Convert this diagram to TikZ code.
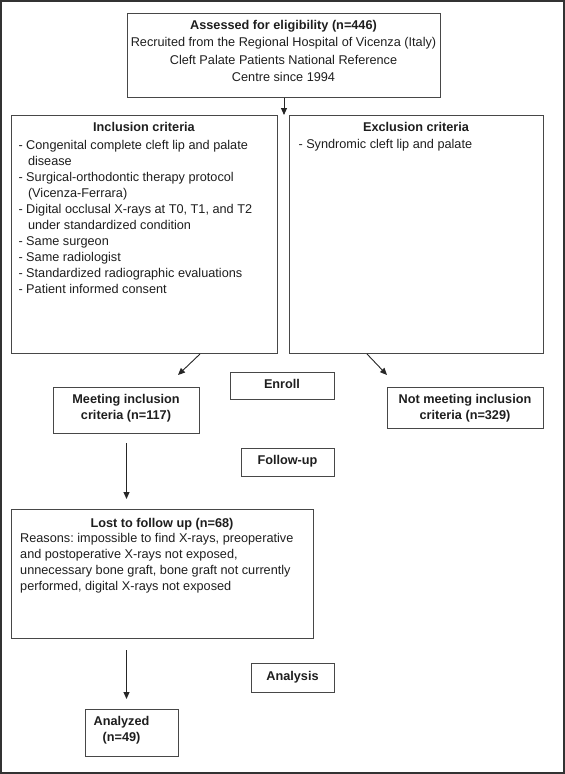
\documentclass[tikz,border=0pt]{standalone}
\usepackage{fontspec}
\setmainfont{Liberation Sans}
\usetikzlibrary{arrows.meta,calc}
\frenchspacing
\newcommand\tstrut{\rule{0pt}{10pt}}
\definecolor{boxcol}{HTML}{474747}
\definecolor{txtcol}{HTML}{1E1E1E}
\begin{document}
\begin{tikzpicture}[x=1pt,y=-1pt,
  box/.style={draw=boxcol, line width=1pt, inner sep=0pt, anchor=north west},
  txt/.style={inner sep=0pt, text=txtcol, font={\fontsize{12.7}{16}\selectfont}},
  ttl/.style={txt, font={\fontsize{12.7}{16}\selectfont\bfseries}, align=center, anchor=north},
  lst/.style={txt, align=left, anchor=north west},
  arr/.style={draw=black!85, line width=0.9pt, -{Triangle[length=7pt,width=6pt]}}]
\useasboundingbox (0,0) rectangle (565,774);
\draw[line width=2pt, draw=black!80] (1,1) rectangle (564,773);
% boxes
\node[box, minimum width=313pt, minimum height=84pt] (top) at (127,13) {};
\node[box, minimum width=266pt, minimum height=238pt] (incl) at (11,115) {};
\node[box, minimum width=254pt, minimum height=238pt] (excl) at (289,115) {};
\node[box, minimum width=104pt, minimum height=27pt] (enroll) at (230,372) {};
\node[box, minimum width=146pt, minimum height=46pt] (meet) at (53,387) {};
\node[box, minimum width=156pt, minimum height=41pt] (notmeet) at (387,387) {};
\node[box, minimum width=93pt, minimum height=28pt] (follow) at (241,448) {};
\node[box, minimum width=302pt, minimum height=129pt] (lost) at (11,509) {};
\node[box, minimum width=83pt, minimum height=29pt] (analysis) at (251,663) {};
\node[box, minimum width=93pt, minimum height=47pt] (analyzed) at (85,709) {};
% texts
\node[txt, align=center, anchor=north, font={\fontsize{12.7}{17.5}\selectfont}] (toptxt) at (283.5,19)
  {\tstrut\textbf{Assessed for eligibility (n=446)}\\Recruited from the Regional Hospital of Vicenza (Italy)\\Cleft Palate Patients National Reference\\Centre since 1994};
\node[ttl] (incltitle) at (144,121.7) {\tstrut Inclusion criteria};
\node[lst] (incltxt) at (18.3,139.3)
  {\tstrut- Congenital complete cleft lip and palate\\\hspace*{9.5pt}disease\\- Surgical-orthodontic therapy protocol\\\hspace*{9.5pt}(Vicenza-Ferrara)\\- Digital occlusal X-rays at T0, T1, and T2\\\hspace*{9.5pt}under standardized condition\\- Same surgeon\\- Same radiologist\\- Standardized radiographic evaluations\\- Patient informed consent};
\node[ttl] (excltitle) at (416,121.7) {\tstrut Exclusion criteria};
\node[lst] (excltxt) at (298.3,138.3) {\tstrut- Syndromic cleft lip and palate};
\node[ttl] (enrolltxt) at (282,378.3) {\tstrut Enroll};
\node[ttl] (meettxt) at (126,393.3) {\tstrut Meeting inclusion\\criteria (n=117)};
\node[ttl] (notmeettxt) at (465,393.3) {\tstrut Not meeting inclusion\\criteria (n=329)};
\node[ttl] (followtxt) at (287.5,454) {\tstrut Follow-up};
\node[ttl] (losttitle) at (162,517) {\tstrut Lost to follow up (n=68)};
\node[lst, font={\fontsize{12.7}{15.8}\selectfont}] (losttxt) at (20,532.7)
  {\tstrut Reasons: impossible to find X-rays, preoperative\\and postoperative X-rays not exposed,\\unnecessary bone graft, bone graft not currently\\performed, digital X-rays not exposed};
\node[ttl] (analysistxt) at (292.5,670) {\tstrut Analysis};
\node[ttl] (analyzedtxt) at (121.5,715) {\tstrut Analyzed\\(n=49)};
% connectors
\coordinate (gap) at (top.south |- incl.north);
\coordinate (meetin) at (178,375);
\coordinate (notin) at (387,375);
\draw[arr] (top.south) -- (gap);
\draw[arr] (incl.south -| meet.east) -- (meetin);
\draw[arr] ($(excl.south west)+(78,0)$) -- (notin);
\draw[arr, shorten <=9pt, shorten >=10pt] (meet.south) -- (meet.south |- lost.north);
\draw[arr, shorten <=11pt, shorten >=10pt] (meet.south |- lost.south) -- (meet.south |- analyzed.north);
\end{tikzpicture}
\end{document}
